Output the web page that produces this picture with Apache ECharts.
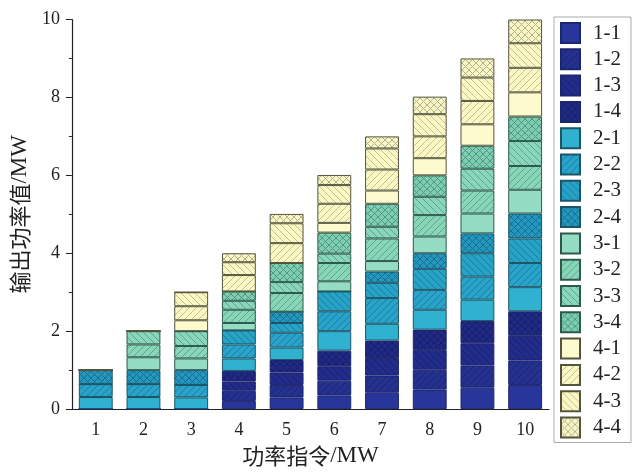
<!DOCTYPE html>
<html><head><meta charset="utf-8">
<script src="https://cdn.jsdelivr.net/npm/echarts@6/dist/echarts.min.js"></script>
<style>html,body{margin:0;padding:0;background:#fff}#c{width:636px;height:472px}</style>
</head><body><div id="c"></div>
<script>
const categories = ['1','2','3','4','5','6','7','8','9','10'];
const seriesNames = ['1-1','1-2','1-3','1-4','2-1','2-2','2-3','2-4','3-1','3-2','3-3','3-4','4-1','4-2','4-3','4-4'];
const s11 = [0,0,0,0.21,0.30,0.35,0.42,0.50,0.55,0.62];
const s12 = [0,0,0,0.26,0.32,0.38,0.44,0.51,0.57,0.63];
const s13 = [0,0,0,0.24,0.32,0.37,0.45,0.51,0.57,0.63];
const s14 = [0,0,0,0.27,0.32,0.40,0.45,0.52,0.57,0.63];
const s21 = [0.31,0.31,0.30,0.32,0.32,0.50,0.43,0.51,0.55,0.62];
const s22 = [0.33,0.33,0.32,0.36,0.38,0.51,0.66,0.51,0.59,0.62];
const s23 = [0,0,0,0.36,0.25,0.51,0.39,0.54,0.60,0.63];
const s24 = [0.36,0.36,0.38,0,0.29,0,0.29,0.40,0.51,0.64];
const s31 = [0,0.33,0.30,0.19,0,0.26,0.27,0.43,0.51,0.61];
const s32 = [0,0.33,0.32,0.34,0.48,0.47,0.58,0.55,0.59,0.61];
const s33 = [0,0.34,0.38,0.23,0.28,0.24,0.30,0.47,0.56,0.64];
const s34 = [0,0,0,0.24,0.49,0.54,0.59,0.55,0.59,0.63];
const s41 = [0,0,0.28,0,0,0.25,0.34,0.44,0.55,0.62];
const s42 = [0,0,0.36,0.42,0.51,0.49,0.54,0.56,0.60,0.63];
const s43 = [0,0,0.36,0.33,0.51,0.48,0.54,0.57,0.60,0.63];
const s44 = [0,0,0,0.23,0.24,0.26,0.31,0.45,0.49,0.61];
const seriesData = [s11,s12,s13,s14,s21,s22,s23,s24,s31,s32,s33,s34,s41,s42,s43,s44];

function pat(bg, line, kind) {
  const n = 7;
  const c = document.createElement('canvas'); c.width = n; c.height = n;
  const g = c.getContext('2d');
  g.fillStyle = bg; g.fillRect(0, 0, n, n);
  if (kind) {
    g.strokeStyle = line; g.lineWidth = 1;
    g.beginPath();
    if (kind === '/' || kind === 'x') {
      g.moveTo(-1, n + 1); g.lineTo(n + 1, -1);
      g.moveTo(-2, 1); g.lineTo(1, -2);
      g.moveTo(n - 1, n + 2); g.lineTo(n + 2, n - 1);
    }
    if (kind === '\\' || kind === 'x') {
      g.moveTo(-1, -1); g.lineTo(n + 1, n + 1);
      g.moveTo(-2, n - 1); g.lineTo(1, n + 2);
      g.moveTo(n - 1, -2); g.lineTo(n + 2, 1);
    }
    g.stroke();
  }
  return { image: c, repeat: 'repeat' };
}
const styles = [
  ['#28369c','#1e2a80',null,'#1c2570'],
  ['#24318f','#1a2670','/','#1c2570'],
  ['#222d8b','#18226a','\\','#1c2570'],
  ['#202a85','#161f66','x','#1c2570'],
  ['#30b1cf',null,null,'#1d5566'],
  ['#29a3c9','#1b7fa4','/','#1d5566'],
  ['#27a3c7','#1b7fa0','\\','#1d5566'],
  ['#2397bd','#176f92','x','#1d5566'],
  ['#95dcc5',null,null,'#2e5a4c'],
  ['#89d5ba','#5aa98b','/','#2e5a4c'],
  ['#8ad6bd','#5aa98b','\\','#2e5a4c'],
  ['#7ecdb2','#4f9a7e','x','#2e5a4c'],
  ['#fdfbcd',null,null,'#55553e'],
  ['#fbf8c6','#c8c38a','/','#55553e'],
  ['#fbf8c6','#c8c38a','\\','#55553e'],
  ['#f8f6c8','#b5b584','x','#55553e']
];
const chart = echarts.init(document.getElementById('c'), null, {renderer: 'canvas'});
const serif = '"Liberation Serif","DejaVu Serif",serif';
const cjk = '"Noto Sans CJK SC",sans-serif';
chart.setOption({
  animation: false,
  grid: { left: 71, right: 87, top: 19.5, bottom: 61 },
  legend: {
    data: seriesNames, orient: 'vertical', left: 554, top: 17, height: 455,
    itemWidth: 19, itemHeight: 20, itemGap: 4.3, icon: 'rect',
    borderColor: '#aaa', borderWidth: 1, padding: [5, 10, 4, 6],
    textStyle: { fontFamily: serif, fontSize: 21, color: '#222', padding: [0,0,0,8] },
    selectedMode: false
  },
  xAxis: {
    type: 'category', data: categories,
    name: '{c|功率指令}{e|/MW}', nameLocation: 'middle', nameGap: 34,
    nameTextStyle: { color: '#222', rich: {
      c: { fontFamily: cjk, fontSize: 22, color: '#222' },
      e: { fontFamily: serif, fontSize: 23, color: '#222' } } },
    axisLine: { lineStyle: { color: '#222', width: 1.2 } },
    axisTick: { alignWithLabel: true, length: 6, lineStyle: { color: '#222' } },
    axisLabel: { fontFamily: serif, fontSize: 18, color: '#222', margin: 12 }
  },
  yAxis: {
    type: 'value', min: 0, max: 10, interval: 2,
    name: '{c|输出功率值}{e|/MW}', nameLocation: 'middle', nameGap: 40,
    nameTextStyle: { color: '#222', rich: {
      c: { fontFamily: cjk, fontSize: 22, color: '#222' },
      e: { fontFamily: serif, fontSize: 23, color: '#222' } } },
    axisLine: { show: true, lineStyle: { color: '#222', width: 1.2 } },
    axisTick: { show: true, length: 6, lineStyle: { color: '#222' } },
    minorTick: { show: true, splitNumber: 2, length: 3, lineStyle: { color: '#222' } },
    splitLine: { show: false },
    axisLabel: { fontFamily: serif, fontSize: 18, color: '#222', margin: 12 }
  },
  series: seriesNames.map((nm, i) => ({
    name: nm, type: 'bar', stack: 'total', barWidth: '71%',
    data: seriesData[i],
    itemStyle: { color: pat(styles[i][0], styles[i][1], styles[i][2]), borderColor: styles[i][3], borderWidth: 1 },
    emphasis: { disabled: true }
  }))
});
</script></body></html>
